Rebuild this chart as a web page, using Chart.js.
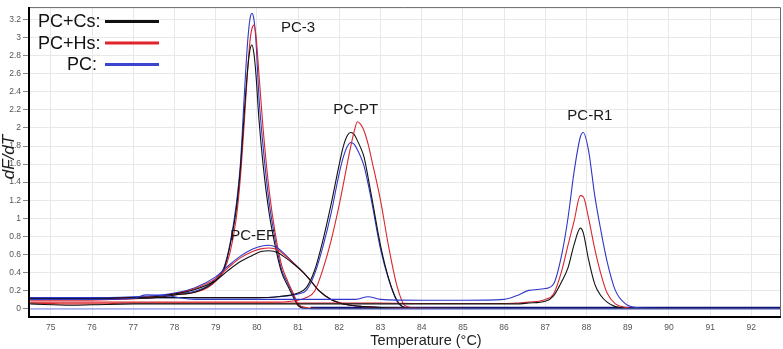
<!DOCTYPE html>
<html>
<head>
<meta charset="utf-8">
<script src="https://cdn.jsdelivr.net/npm/chart.js@4.4.1/dist/chart.umd.min.js"></script>
<style>
  html, body { margin: 0; padding: 0; background: #ffffff; }
  #wrap { width: 783px; height: 349px; position: relative; }
</style>
</head>
<body>
<div id="wrap"><canvas id="c" width="783" height="349"></canvas></div>
<script>
// ---- tick labels ----
const xTicks = [75, 76, 77, 78, 79, 80, 81, 82, 83, 84, 85, 86, 87, 88, 89, 90, 91, 92];
const yTicks = [0, 0.2, 0.4, 0.6, 0.8, 1, 1.2, 1.4, 1.6, 1.8, 2, 2.2, 2.4, 2.6, 2.8, 3, 3.2];

// ---- series names / peak names ----
const seriesNames = ["PC+Cs:", "PC+Hs:", "PC:"];
const peakNames = ["PC-3", "PC-EF", "PC-PT", "PC-R1"];

// ---- PC-3 peak ----
const tempsPC3 = [74.5, 75.5, 76.5, 77.5, 78, 78.5, 78.8, 79, 79.2, 79.35, 79.5, 79.6, 79.7, 79.77, 79.83, 79.88, 79.93, 79.98, 80.05, 80.15, 80.3, 80.45, 80.6, 80.75, 80.9, 81.0, 81.2, 81.6, 83, 86, 89, 92.7];
const pc3Cs = [0.12, 0.11, 0.11, 0.12, 0.15, 0.18, 0.24, 0.31, 0.44, 0.70, 1.10, 1.55, 2.20, 2.62, 2.86, 2.92, 2.82, 2.58, 2.10, 1.60, 1.05, 0.68, 0.40, 0.25, 0.11, 0.03, 0.0, 0.0, 0.0, 0.0, 0.0, 0.0];
const pc3Hs = [0.09, 0.09, 0.10, 0.12, 0.15, 0.18, 0.23, 0.30, 0.42, 0.62, 1.00, 1.45, 2.10, 2.60, 2.95, 3.10, 3.14, 3.02, 2.60, 2.00, 1.30, 0.82, 0.48, 0.30, 0.15, 0.05, 0.01, 0.0, 0.0, 0.0, 0.0, 0.0];
const pc3PC = [0.12, 0.12, 0.12, 0.13, 0.16, 0.19, 0.25, 0.33, 0.45, 0.72, 1.15, 1.60, 2.40, 2.92, 3.20, 3.27, 3.20, 2.95, 2.35, 1.80, 1.17, 0.75, 0.43, 0.28, 0.13, 0.04, 0.0, 0.0, 0.0, 0.0, 0.0, 0.0];

// ---- PC-EF peak ----
const tempsEF = [74.5, 76, 77, 77.5, 78, 78.5, 79, 79.3, 79.6, 79.9, 80.1, 80.3, 80.5, 80.7, 80.9, 81.1, 81.3, 81.5, 81.8, 82.2, 82.6, 83, 86, 89, 92.7];
const efCs = [0.11, 0.11, 0.12, 0.13, 0.16, 0.21, 0.31, 0.42, 0.52, 0.59, 0.63, 0.64, 0.62, 0.56, 0.49, 0.41, 0.31, 0.20, 0.10, 0.04, 0.02, 0.01, 0.0, 0.0, 0.0];
const efHs = [0.10, 0.10, 0.12, 0.13, 0.16, 0.22, 0.33, 0.45, 0.56, 0.63, 0.66, 0.67, 0.65, 0.58, 0.50, 0.41, 0.31, 0.20, 0.10, 0.04, 0.02, 0.01, 0.0, 0.0, 0.0];
const efPC = [0.12, 0.12, 0.13, 0.14, 0.17, 0.23, 0.35, 0.47, 0.58, 0.66, 0.69, 0.70, 0.67, 0.59, 0.50, 0.41, 0.31, 0.20, 0.10, 0.04, 0.02, 0.01, 0.0, 0.0, 0.0];

// ---- PC-PT peak ----
const tempsPT = [74.5, 76, 78, 80, 80.5, 81, 81.2, 81.4, 81.6, 81.8, 82.0, 82.1, 82.2, 82.28, 82.36, 82.44, 82.52, 82.6, 82.7, 82.8, 83.0, 83.2, 83.4, 83.6, 84, 86, 89, 92.7];
const ptCs = [0.12, 0.12, 0.12, 0.12, 0.13, 0.17, 0.23, 0.42, 0.75, 1.15, 1.60, 1.80, 1.92, 1.95, 1.93, 1.86, 1.78, 1.68, 1.45, 1.20, 0.70, 0.33, 0.09, 0.01, 0.0, 0.0, 0.0, 0.0];
const ptHs = [0.07, 0.07, 0.07, 0.07, 0.07, 0.09, 0.12, 0.19, 0.43, 0.75, 1.15, 1.38, 1.62, 1.80, 1.96, 2.07, 2.04, 1.97, 1.82, 1.62, 1.20, 0.68, 0.25, 0.03, 0.0, 0.0, 0.0, 0.0];
const ptPC = [0.12, 0.12, 0.12, 0.12, 0.13, 0.16, 0.20, 0.38, 0.68, 1.05, 1.50, 1.68, 1.80, 1.84, 1.82, 1.76, 1.68, 1.58, 1.38, 1.15, 0.66, 0.32, 0.08, 0.01, 0.0, 0.0, 0.0, 0.0];

// ---- PC-R1 peak ----
const tempsR1 = [74.5, 75.5, 76, 77, 77.3, 77.8, 78.5, 80, 81, 82.4, 82.7, 83, 84, 85, 86, 86.3, 86.6, 87, 87.2, 87.4, 87.55, 87.7, 87.85, 87.92, 88.05, 88.2, 88.35, 88.5, 88.7, 88.95, 89.2, 90, 92.7];
const r1Cs = [0.05, 0.035, 0.04, 0.05, 0.05, 0.05, 0.05, 0.05, 0.05, 0.05, 0.05, 0.05, 0.05, 0.05, 0.05, 0.05, 0.06, 0.08, 0.14, 0.30, 0.45, 0.71, 0.89, 0.84, 0.54, 0.27, 0.14, 0.07, 0.02, 0.0, 0.0, 0.0, 0.0];
const r1Hs = [0.06, 0.05, 0.05, 0.06, 0.06, 0.06, 0.06, 0.06, 0.06, 0.06, 0.06, 0.06, 0.055, 0.055, 0.055, 0.06, 0.07, 0.10, 0.16, 0.42, 0.70, 0.97, 1.25, 1.24, 1.00, 0.66, 0.38, 0.17, 0.05, 0.01, 0.0, 0.0, 0.0];
const r1PC = [0.10, 0.10, 0.10, 0.11, 0.15, 0.14, 0.10, 0.10, 0.10, 0.10, 0.13, 0.10, 0.09, 0.09, 0.10, 0.14, 0.20, 0.22, 0.27, 0.60, 1.00, 1.52, 1.90, 1.95, 1.75, 1.25, 0.86, 0.52, 0.20, 0.05, 0.01, 0.0, 0.0];

// ---- flat blank baselines ----
const tempsBlank = [74.5, 92.7];
const blankValues = [-0.006, -0.006];
const tempsBase = [81.3, 92.7];
const baseValues = [0.004, 0.004];

// ---- annotation positions (data coordinates) ----
const labelTemps = [81.0, 79.9, 82.4, 88.08];
const labelValues = [3.11, 0.80, 2.20, 2.14];

const colBlack = "#111111";
const colRed = "#d9262e";
const colBlue = "#2f37c9";

function pts(xs, ys) { return xs.map((x, i) => ({ x: x, y: ys[i] })); }
function ds(label, xs, ys, color, w) {
  return {
    label: label,
    data: pts(xs, ys),
    borderColor: color,
    backgroundColor: color,
    borderWidth: w || 1.1,
    pointRadius: 0,
    fill: false,
    cubicInterpolationMode: "monotone"
  };
}

const datasets = [
  ds("blank", tempsBlank, blankValues, "#7080e6", 1),
  ds("PC-R1 PC+Cs", tempsR1, r1Cs, colBlack),
  ds("PC-R1 PC+Hs", tempsR1, r1Hs, colRed),
  ds("PC-R1 PC", tempsR1, r1PC, colBlue),
  ds("PC-EF PC+Cs", tempsEF, efCs, colBlack),
  ds("PC-EF PC+Hs", tempsEF, efHs, colRed),
  ds("PC-EF PC", tempsEF, efPC, colBlue),
  ds("PC-PT PC+Hs", tempsPT, ptHs, colRed),
  ds("PC-PT PC+Cs", tempsPT, ptCs, colBlack),
  ds("PC-PT PC", tempsPT, ptPC, colBlue),
  ds("PC-3 PC+Cs", tempsPC3, pc3Cs, colBlack),
  ds("PC-3 PC+Hs", tempsPC3, pc3Hs, colRed),
  ds("PC-3 PC", tempsPC3, pc3PC, colBlue),
  ds("baseline", tempsBase, baseValues, "#10107a", 2.6)
];

const FONT = "'Liberation Sans', Arial, sans-serif";

const decor = {
  id: "decor",
  afterDraw(chart) {
    const ctx = chart.ctx;
    const a = chart.chartArea;
    const xs = chart.scales.x, ys = chart.scales.y;
    ctx.save();
    // frame: top & right thin gray
    ctx.strokeStyle = "#666";
    ctx.lineWidth = 1;
    ctx.beginPath();
    ctx.moveTo(a.left, a.top + 0.5);
    ctx.lineTo(a.right - 0.5, a.top + 0.5);
    ctx.lineTo(a.right - 0.5, a.bottom);
    ctx.stroke();
    // left & bottom axes black
    ctx.strokeStyle = "#000";
    ctx.lineWidth = 2;
    ctx.beginPath();
    ctx.moveTo(a.left, a.top);
    ctx.lineTo(a.left, a.bottom);
    ctx.lineTo(a.right, a.bottom);
    ctx.stroke();

    // peak labels
    ctx.fillStyle = "#1a1a1a";
    ctx.font = "15px " + FONT;
    ctx.textAlign = "center";
    ctx.textBaseline = "middle";
    peakNames.forEach((n, i) => {
      ctx.fillText(n, xs.getPixelForValue(labelTemps[i]), ys.getPixelForValue(labelValues[i]));
    });

    // legend
    const cols = [colBlack, "#e0242c", "#3a44cc"];
    const ly = [21.5, 43, 64.5];
    ctx.font = "18px " + FONT;
    ctx.textAlign = "right";
    seriesNames.forEach((n, i) => {
      ctx.fillStyle = "#111";
      ctx.fillText(n, i === 2 ? 97 : 100.5, ly[i] + 1);
      ctx.strokeStyle = cols[i];
      ctx.lineWidth = 3;
      ctx.beginPath();
      ctx.moveTo(105, ly[i]);
      ctx.lineTo(159, ly[i]);
      ctx.stroke();
    });

    // axis titles
    ctx.fillStyle = "#222";
    ctx.font = "14.5px " + FONT;
    ctx.textAlign = "center";
    ctx.textBaseline = "alphabetic";
    ctx.fillText("Temperature (\u00B0C)", 426, 345);
    ctx.save();
    ctx.translate(14, 157);
    ctx.rotate(-Math.PI / 2);
    ctx.font = "italic 17px " + FONT;
    ctx.textBaseline = "alphabetic";
    ctx.fillText("dF/dT", 0, 0);
    ctx.restore();
    ctx.restore();
  }
};

new Chart(document.getElementById("c"), {
  type: "line",
  data: { datasets: datasets },
  options: {
    responsive: false,
    animation: false,
    devicePixelRatio: 1,
    layout: { padding: { top: 1, right: 2, left: 0, bottom: 0 } },
    plugins: { legend: { display: false }, tooltip: { enabled: false } },
    scales: {
      x: {
        type: "linear",
        min: 74.47,
        max: 92.72,
        afterBuildTicks: (s) => { s.ticks = xTicks.map(v => ({ value: v })); },
        afterFit: (s) => { s.height = 32; },
        border: { display: false },
        grid: { color: "#e8e8e8", lineWidth: 1, drawTicks: false },
        ticks: { color: "#555", font: { size: 8.5, family: FONT }, padding: 6, maxRotation: 0, autoSkip: false,
                 callback: (v) => String(v) }
      },
      y: {
        type: "linear",
        min: -0.095,
        max: 3.34,
        afterBuildTicks: (s) => { s.ticks = yTicks.map(v => ({ value: v })); },
        afterFit: (s) => { s.width = 29; },
        border: { display: false },
        grid: { color: "#e8e8e8", lineWidth: 1, tickLength: 6, tickColor: "#888" },
        ticks: { color: "#555", font: { size: 8.5, family: FONT }, padding: 2, autoSkip: false,
                 callback: (v) => String(Math.round(v * 10) / 10) }
      }
    }
  },
  plugins: [decor]
});
</script>
</body>
</html>
